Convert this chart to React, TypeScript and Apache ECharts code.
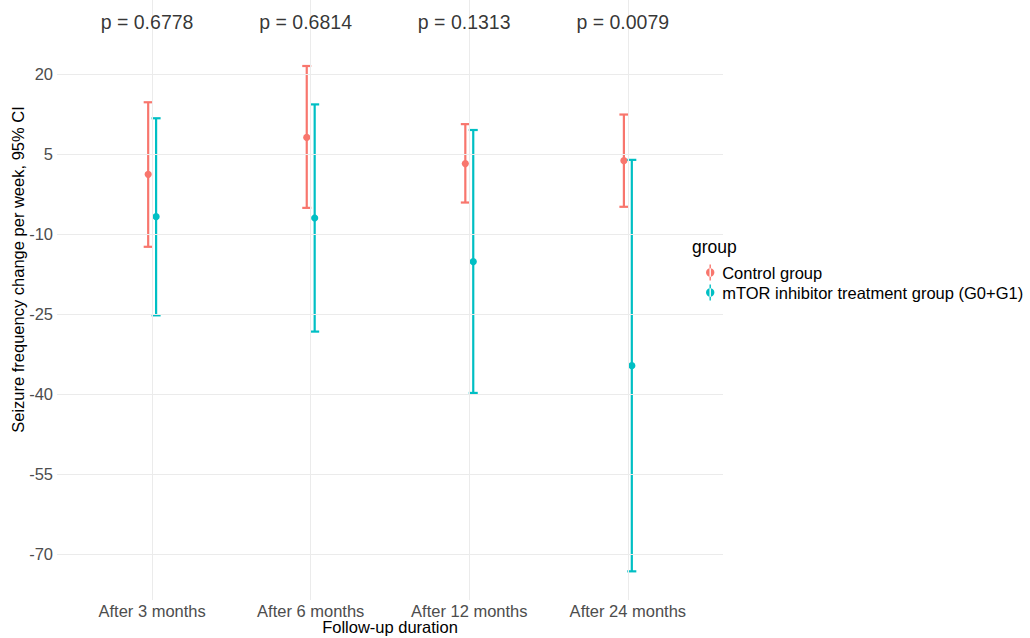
import React, { useEffect, useRef } from "react";
import * as echarts from "echarts";

const categories = ["After 3 months", "After 6 months", "After 12 months", "After 24 months"];
const pValues = ["p = 0.6778", "p = 0.6814", "p = 0.1313", "p = 0.0079"];
const yTicks = [-70, -55, -40, -25, -10, 5, 20];

const controlMean = [1.2, 8.1, 3.2, 3.75];
const controlLower = [-12.4, -5.1, -4.1, -4.9];
const controlUpper = [14.7, 21.5, 10.6, 12.4];

const treatMean = [-6.75, -7.0, -15.2, -34.7];
const treatLower = [-25.25, -28.3, -39.8, -73.25];
const treatUpper = [11.7, 14.3, 9.5, 3.9];

const seriesNames = ["Control group", "mTOR inhibitor treatment group (G0+G1)"];
const colors = ["#F8766D", "#00BFC4"];

const FONT = "'Liberation Sans', Arial, sans-serif";

function buildData(mean: number[], lo: number[], hi: number[]) {
  return mean.map((m, i) => [i + 1, lo[i], m, hi[i]]);
}

function makeRender(offset: number, color: string) {
  return (params: any, api: any) => {
    const x = api.value(0) + offset;
    const lo = api.coord([x, api.value(1)]);
    const mid = api.coord([x, api.value(2)]);
    const hi = api.coord([x, api.value(3)]);
    const cap = 4.5;
    const style = { stroke: color, lineWidth: 2.2, fill: "none" };
    return {
      type: "group",
      children: [
        { type: "line", shape: { x1: lo[0], y1: lo[1], x2: hi[0], y2: hi[1] }, style },
        { type: "line", shape: { x1: hi[0] - cap, y1: hi[1], x2: hi[0] + cap, y2: hi[1] }, style },
        { type: "line", shape: { x1: lo[0] - cap, y1: lo[1], x2: lo[0] + cap, y2: lo[1] }, style },
        { type: "circle", shape: { cx: mid[0], cy: mid[1], r: 3.6 }, style: { fill: color } },
      ],
    };
  };
}

const legendIcon =
  "path://M4.3,0 H5.7 V16 H4.3 Z M0.8,8 A4.2,4.2 0 1,0 9.2,8 A4.2,4.2 0 1,0 0.8,8 Z";

export default function App() {
  const ref = useRef<HTMLDivElement>(null);
  useEffect(() => {
    if (!ref.current) return;
    const chart = echarts.init(ref.current, null, { renderer: "svg" });
    const grid = "#ebebeb";
    const option: any = {
      animation: false,
      backgroundColor: "#ffffff",
      textStyle: { fontFamily: FONT },
      grid: { left: 57, width: 666, top: 0, height: 600, containLabel: false, outerBoundsMode: "none" },
      xAxis: {
        type: "value",
        min: 0.4,
        max: 4.6,
        axisLine: { show: false },
        axisTick: { show: false },
        splitLine: { show: false },
        axisLabel: {
          customValues: [1, 2, 3, 4],
          formatter: (v: number) => categories[Math.round(v) - 1] ?? "",
          color: "#4d4d4d",
          fontSize: 16.5,
          fontFamily: FONT,
          margin: 2,
        },
        name: "Follow-up duration",
        nameLocation: "middle",
        nameGap: 18,
        nameMoveOverlap: false,
        nameTextStyle: { color: "#000000", fontSize: 16.5, fontFamily: FONT },
      },
      yAxis: {
        type: "value",
        min: -78.625,
        max: 33.875,
        axisLine: { show: false },
        axisTick: { show: false },
        splitLine: { show: false },
        axisLabel: {
          customValues: yTicks,
          color: "#4d4d4d",
          fontSize: 16.5,
          fontFamily: FONT,
          margin: 4,
        },
      },
      legend: {
        orient: "vertical",
        left: 701,
        top: 259,
        itemWidth: 10,
        itemHeight: 16,
        itemGap: 3,
        icon: legendIcon,
        textStyle: { color: "#000000", fontSize: 16.5, fontFamily: FONT, padding: [0, 0, 0, 2] },
        data: seriesNames,
        z: 6,
      },
      graphic: [
        {
          type: "rect",
          z: 4,
          shape: { x: 682, y: 228, width: 348, height: 78 },
          style: { fill: "#ffffff" },
        },
        {
          type: "text",
          z: 7,
          x: 692,
          y: 247,
          style: {
            text: "group",
            fill: "#000000",
            font: `17.5px ${FONT}`,
            textAlign: "left",
            textVerticalAlign: "middle",
          },
        },
        {
          type: "text",
          z: 7,
          x: 18,
          y: 269.5,
          rotation: Math.PI / 2,
          style: {
            text: "Seizure frequency change per week, 95% CI",
            fill: "#000000",
            font: `16.5px ${FONT}`,
            textAlign: "center",
            textVerticalAlign: "middle",
          },
        },
      ],
      series: [
        {
          name: "gridlines",
          type: "scatter",
          data: [],
          silent: true,
          z: 1,
          markLine: {
            silent: true,
            symbol: "none",
            label: { show: false },
            lineStyle: { color: grid, width: 1, type: "solid" },
            data: [
              ...[1, 2, 3, 4].map((v) => ({ xAxis: v })),
              ...yTicks.map((v) => ({ yAxis: v })),
            ],
          },
        },
        {
          name: "pvalues",
          type: "scatter",
          symbolSize: 0,
          silent: true,
          z: 5,
          data: pValues.map((p, i) => [i + 1 - 0.032, 29.75, p]),
          label: {
            show: true,
            position: "inside",
            formatter: (d: any) => d.value[2],
            color: "#000000",
            fontSize: 19.5,
            fontFamily: FONT,
          },
        },
        {
          name: seriesNames[0],
          type: "custom",
          z: 3,
          itemStyle: { color: colors[0] },
          renderItem: makeRender(-0.025, colors[0]),
          encode: { x: 0, y: [1, 2, 3] },
          data: buildData(controlMean, controlLower, controlUpper),
        },
        {
          name: seriesNames[1],
          type: "custom",
          z: 3,
          itemStyle: { color: colors[1] },
          renderItem: makeRender(0.025, colors[1]),
          encode: { x: 0, y: [1, 2, 3] },
          data: buildData(treatMean, treatLower, treatUpper),
        },
      ],
    };
    chart.setOption(option);
    return () => chart.dispose();
  }, []);
  return (
    <div
      ref={ref}
      style={{ position: "fixed", left: 0, top: 0, width: 1030, height: 638, background: "#fff" }}
    />
  );
}
